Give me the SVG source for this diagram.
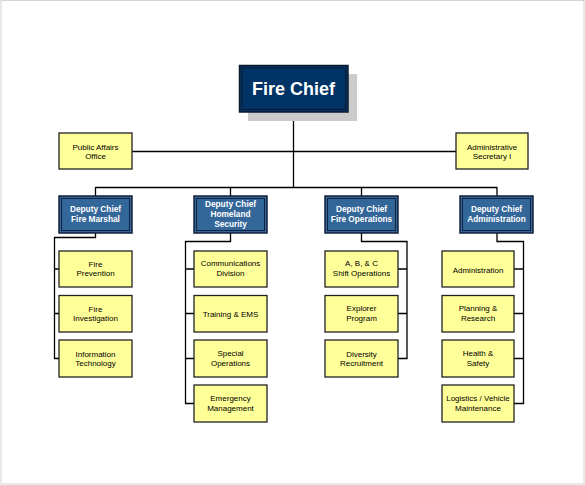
<svg xmlns="http://www.w3.org/2000/svg" width="585" height="485" viewBox="0 0 585 485">
<style>
.ln{fill:none;stroke:#000;stroke-width:1.3}
.yb{fill:#FFFF99;stroke:#222;stroke-width:1.3}
.yt{font-family:"Liberation Sans",Arial,sans-serif;font-size:8px;fill:#000;text-anchor:middle}
.db{fill:#336699;stroke:#14213D;stroke-width:1.5}
.di{fill:none;stroke:#14213D;stroke-width:1}
.dt{font-family:"Liberation Sans",Arial,sans-serif;font-size:8.3px;font-weight:bold;fill:#fff;text-anchor:middle}
</style>
<rect x="0" y="0" width="585" height="485" fill="#fff"/>
<rect x="1" y="0.5" width="583" height="483.5" fill="none" stroke="#d4d4d4" stroke-width="1"/>
<g id="connectors">
<path class="ln" d="M293.5 112V187M132 151.5H456M95.5 187.5H497M95.5 187V196M230.5 187V196M361.5 187V196M497 187V196"/>
<path class="ln" d="M95.5 233V237.5H54.5V358.5H59M54.5 269H59M54.5 313.5H59"/>
<path class="ln" d="M230.5 233V241.5H185.5V403.5H194M185.5 269H194M185.5 313.5H194M185.5 358.5H194"/>
<path class="ln" d="M361.5 233V241.5H407V358.5H398M407 269H398M407 313.5H398"/>
<path class="ln" d="M497 233V241.5H523.5V403.5H514M523.5 269H514M523.5 313.5H514M523.5 358.5H514"/>
</g>
<g id="fire-chief">
<rect x="248" y="74" width="109" height="47" fill="#CBCBCB"/>
<rect x="239.5" y="65.5" width="108.5" height="46.5" fill="#003366" stroke="#0d1a2e" stroke-width="1.5"/>
<rect x="242" y="68" width="103.5" height="41.5" fill="none" stroke="#0d1a2e" stroke-width="1"/>
<text x="293.5" y="95" font-family="'Liberation Sans',Arial,sans-serif" font-size="18" font-weight="bold" fill="#fff" text-anchor="middle">Fire Chief</text>
</g>
<g id="public-affairs">
<rect class="yb" x="59" y="133" width="73" height="36"/>
<text class="yt" x="95.5" y="150">Public Affairs</text><text class="yt" x="95.5" y="159">Office</text>
</g>
<g id="admin-secretary">
<rect class="yb" x="456" y="133" width="72" height="36"/>
<text class="yt" x="492" y="150">Administrative</text><text class="yt" x="492" y="159">Secretary I</text>
</g>
<g id="dc-fire-marshal">
<rect class="db" x="59" y="196" width="73" height="37"/><rect class="di" x="61.5" y="198.5" width="68" height="32"/>
<text class="dt" x="95.5" y="212">Deputy Chief</text><text class="dt" x="95.5" y="222">Fire Marshal</text>
</g>
<g id="dc-homeland">
<rect class="db" x="194" y="196" width="73" height="37"/><rect class="di" x="196.5" y="198.5" width="68" height="32"/>
<text class="dt" x="230.5" y="207">Deputy Chief</text><text class="dt" x="230.5" y="217">Homeland</text><text class="dt" x="230.5" y="227">Security</text>
</g>
<g id="dc-fire-operations">
<rect class="db" x="325" y="196" width="73" height="37"/><rect class="di" x="327.5" y="198.5" width="68" height="32"/>
<text class="dt" x="361.5" y="212">Deputy Chief</text><text class="dt" x="361.5" y="222">Fire Operations</text>
</g>
<g id="dc-administration">
<rect class="db" x="460" y="196" width="73" height="37"/><rect class="di" x="462.5" y="198.5" width="68" height="32"/>
<text class="dt" x="496.5" y="212">Deputy Chief</text><text class="dt" x="496.5" y="222">Administration</text>
</g>
<g id="fire-prevention"><rect class="yb" x="59" y="251" width="73" height="36"/><text class="yt" x="95.5" y="267">Fire</text><text class="yt" x="95.5" y="276">Prevention</text></g>
<g id="fire-investigation"><rect class="yb" x="59" y="295.5" width="73" height="36.5"/><text class="yt" x="95.5" y="311.5">Fire</text><text class="yt" x="95.5" y="320.5">Investigation</text></g>
<g id="information-technology"><rect class="yb" x="59" y="340" width="73" height="37"/><text class="yt" x="95.5" y="357">Information</text><text class="yt" x="95.5" y="366">Technology</text></g>
<g id="communications"><rect class="yb" x="194" y="251" width="73" height="36"/><text class="yt" x="230.5" y="266">Communications</text><text class="yt" x="230.5" y="276">Division</text></g>
<g id="training-ems"><rect class="yb" x="194" y="295.5" width="73" height="36.5"/><text class="yt" x="230.5" y="317">Training &amp; EMS</text></g>
<g id="special-operations"><rect class="yb" x="194" y="340" width="73" height="37"/><text class="yt" x="230.5" y="356">Special</text><text class="yt" x="230.5" y="366">Operations</text></g>
<g id="emergency-management"><rect class="yb" x="194" y="385" width="73" height="37"/><text class="yt" x="230.5" y="401">Emergency</text><text class="yt" x="230.5" y="411">Management</text></g>
<g id="shift-operations"><rect class="yb" x="325" y="251" width="73" height="36"/><text class="yt" x="361.5" y="266">A, B, &amp; C</text><text class="yt" x="361.5" y="276">Shift Operations</text></g>
<g id="explorer-program"><rect class="yb" x="325" y="295.5" width="73" height="36.5"/><text class="yt" x="361.5" y="311">Explorer</text><text class="yt" x="361.5" y="321">Program</text></g>
<g id="diversity-recruitment"><rect class="yb" x="325" y="340" width="73" height="37"/><text class="yt" x="361.5" y="357">Diversity</text><text class="yt" x="361.5" y="366">Recruitment</text></g>
<g id="administration"><rect class="yb" x="442" y="251" width="72" height="36"/><text class="yt" x="478" y="273">Administration</text></g>
<g id="planning-research"><rect class="yb" x="442" y="295.5" width="72" height="36.5"/><text class="yt" x="478" y="311">Planning &amp;</text><text class="yt" x="478" y="321">Research</text></g>
<g id="health-safety"><rect class="yb" x="442" y="340" width="72" height="37"/><text class="yt" x="478" y="356">Health &amp;</text><text class="yt" x="478" y="366">Safety</text></g>
<g id="logistics"><rect class="yb" x="442" y="385" width="72" height="37"/><text class="yt" x="478" y="401">Logistics / Vehicle</text><text class="yt" x="478" y="411">Maintenance</text></g>
</svg>
